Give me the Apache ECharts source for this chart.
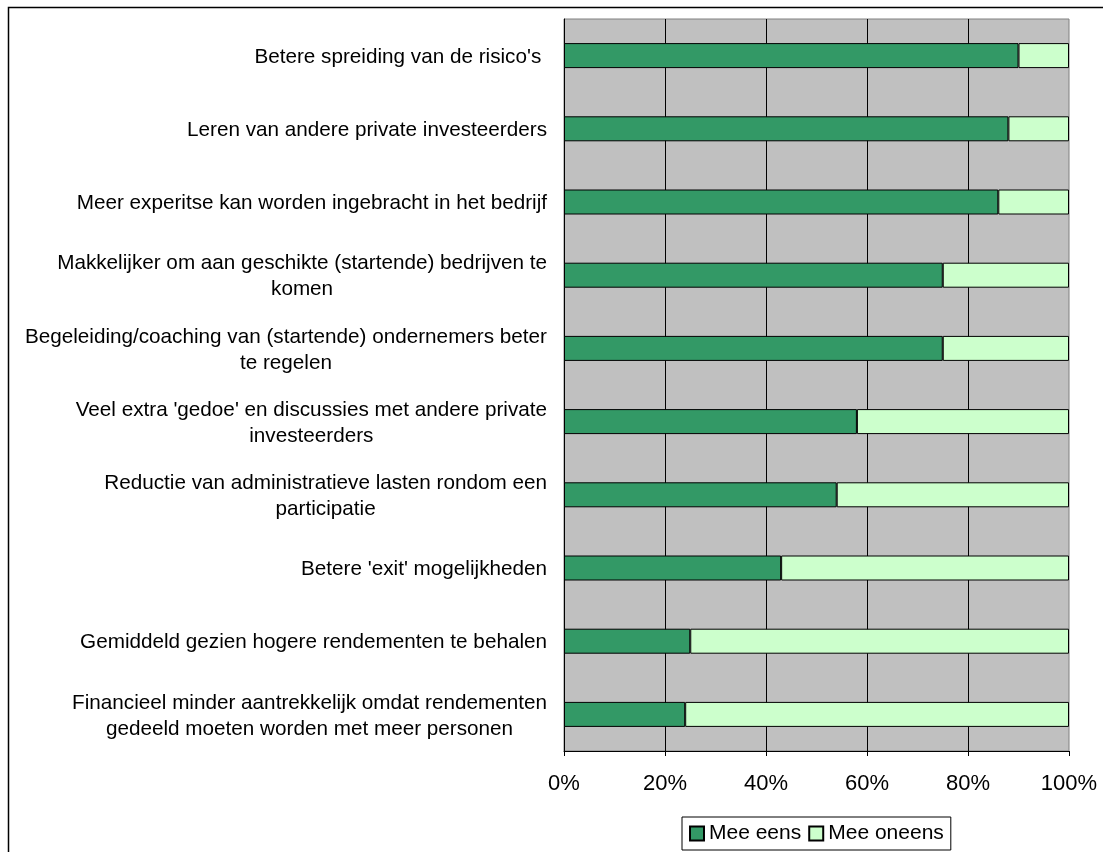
<!DOCTYPE html>
<html>
<head>
<meta charset="utf-8">
<script src="https://cdn.jsdelivr.net/npm/echarts@6/dist/echarts.min.js"></script>
<style>
  html, body { margin: 0; padding: 0; background: #fff; }
  #chart { width: 1103px; height: 852px; }
</style>
</head>
<body>
<div id="chart"></div>
<script>
// Statements, wrapped as they are displayed (top to bottom)
const categories = [
  "Betere spreiding van de risico's ",
  "Leren van andere private investeerders",
  "Meer experitse kan worden ingebracht in het bedrijf",
  "Makkelijker om aan geschikte (startende) bedrijven te\nkomen",
  "Begeleiding/coaching van (startende) ondernemers beter\nte regelen",
  "Veel extra 'gedoe' en discussies met andere private\ninvesteerders",
  "Reductie van administratieve lasten rondom een\nparticipatie",
  "Betere 'exit' mogelijkheden",
  "Gemiddeld gezien hogere rendementen te behalen",
  "Financieel minder aantrekkelijk omdat rendementen\ngedeeld moeten worden met meer personen"
];

// Share of respondents (%)
const meeEens   = [90, 88, 86, 75, 75, 58, 54, 43, 25, 24];
const meeOneens = [10, 12, 14, 25, 25, 42, 46, 57, 75, 76];

const seriesNames = ['Mee eens', 'Mee oneens'];
const tickLabels = ['0%', '20%', '40%', '60%', '80%', '100%'];

const FONT = '"Liberation Sans", Arial, sans-serif';

const chart = echarts.init(document.getElementById('chart'), null, { renderer: 'canvas' });

chart.setOption({
  animation: false,
  backgroundColor: '#ffffff',
  textStyle: { fontFamily: FONT, color: '#000' },
  graphic: [{
    type: 'rect',
    shape: { x: 8.5, y: 7.5, width: 1200, height: 1000 },
    style: { fill: 'none', stroke: '#000', lineWidth: 1.5 },
    silent: true,
    z: 100
  }],
  grid: {
    left: 564,
    right: 34,
    top: 19,
    bottom: 101,
    show: true,
    backgroundColor: '#c0c0c0',
    borderColor: '#808080',
    borderWidth: 1,
    containLabel: false,
    outerBoundsMode: 'none'
  },
  legend: {
    data: seriesNames,
    left: 682,
    top: 817,
    orient: 'horizontal',
    icon: 'rect',
    itemWidth: 14,
    itemHeight: 14,
    itemGap: 7,
    padding: [6, 7],
    borderColor: '#000',
    borderWidth: 1,
    backgroundColor: '#fff',
    textStyle: { fontFamily: FONT, fontSize: 21, color: '#000' }
  },
  xAxis: {
    type: 'value',
    min: 0,
    max: 100,
    interval: 20,
    axisLine: { show: true, lineStyle: { color: '#000', width: 1 } },
    axisTick: { show: true, length: 5, lineStyle: { color: '#000' } },
    axisLabel: {
      margin: 22,
      fontFamily: FONT,
      fontSize: 22,
      color: '#000',
      formatter: function (v) { return tickLabels[Math.round(v / 20)]; }
    },
    splitLine: {
      show: true,
      showMinLine: false,
      showMaxLine: false,
      lineStyle: { color: '#000', width: 1 }
    }
  },
  yAxis: {
    type: 'category',
    inverse: true,
    data: categories,
    axisLine: { show: true, lineStyle: { color: '#000', width: 1 } },
    axisTick: { show: false },
    splitLine: { show: false },
    axisLabel: {
      margin: 17,
      align: 'right',
      padding: [3, 0, 0, 0],
      fontFamily: FONT,
      fontSize: 20.7,
      lineHeight: 26,
      color: '#000',
      // every line centred inside the right-aligned label block
      formatter: function (v) {
        return v.split('\n').map(function (s) { return '{c|' + s + '}'; }).join('\n');
      },
      rich: {
        c: { align: 'center', fontFamily: FONT, fontSize: 20.7, lineHeight: 26, color: '#000' }
      }
    }
  },
  series: [
    {
      name: seriesNames[0],
      type: 'bar',
      stack: 'total',
      barWidth: 25,
      data: meeEens,
      itemStyle: { color: '#339966', borderColor: '#000', borderWidth: 1 }
    },
    {
      name: seriesNames[1],
      type: 'bar',
      stack: 'total',
      barWidth: 25,
      data: meeOneens,
      itemStyle: { color: '#ccffcc', borderColor: '#000', borderWidth: 1 }
    }
  ]
});
</script>
</body>
</html>
